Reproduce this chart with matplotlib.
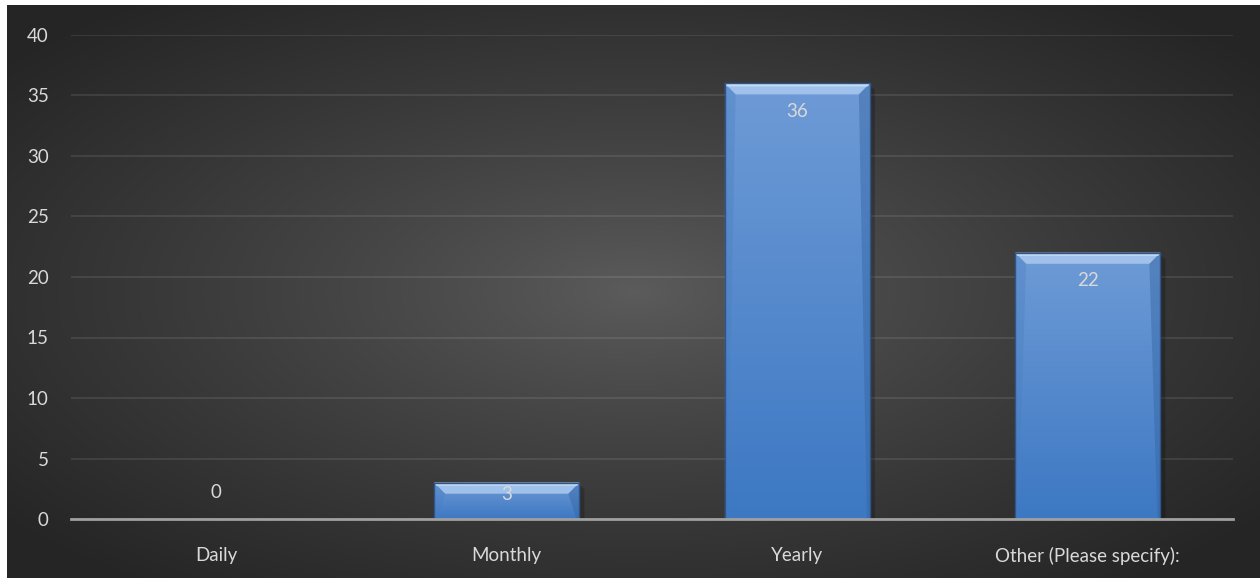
import numpy as np
import matplotlib
matplotlib.use('Agg')
import matplotlib.pyplot as plt
from matplotlib.patches import Polygon

categories = ['Daily', 'Monthly', 'Yearly', 'Other (Please specify):']
counts = [0, 3, 36, 22]
y_ticks = [0, 5, 10, 15, 20, 25, 30, 35, 40]

plt.rcParams['font.family'] = ['Lato', 'DejaVu Sans']

fig = plt.figure(figsize=(12.6, 5.78), dpi=100)
fig.patch.set_facecolor('white')

# radial dark background
bg = fig.add_axes([7 / 1260, 0, 1 - 7 / 1260, 1 - 5 / 578])
bg.set_axis_off()
yy, xx = np.mgrid[-1:1:300j, -1:1:600j]
r = np.sqrt(xx ** 2 + (yy / 1.0) ** 2)
r = np.clip(r / 1.3, 0, 1) ** 0.85
c0 = np.array([0x5c, 0x5c, 0x5c]) / 255
c1 = np.array([0x25, 0x25, 0x25]) / 255
img = c0[None, None, :] * (1 - r[..., None]) + c1[None, None, :] * r[..., None]
bg.imshow(img, aspect='auto', extent=[0, 1, 0, 1])

ax = fig.add_axes([71 / 1260, 1 - 519 / 578, (1233 - 71) / 1260, (519 - 35) / 578])
ax.patch.set_alpha(0)
x = np.arange(len(categories))
bars = ax.bar(x, counts, width=0.5, color='#5b8fd2', zorder=3)
ax.set_xlim(-0.5, len(categories) - 0.5)
ax.set_ylim(0, 40)
ax.set_yticks(y_ticks)
ax.set_xticks(x)
ax.set_xticklabels(categories)
ax.grid(axis='y', color='white', alpha=0.09, linewidth=1.5, zorder=0)
ax.tick_params(axis='both', length=0, labelsize=13.5, colors='#d9d9d9')
ax.tick_params(axis='x', pad=20)
ax.tick_params(axis='y', pad=22)
for s in ['top', 'right', 'left']:
    ax.spines[s].set_visible(False)
ax.spines['bottom'].set_color('#a0a0a0')
ax.spines['bottom'].set_linewidth(2)
ax.spines['bottom'].set_zorder(5)

# gradient + bevel on bars
grad = np.linspace(0, 1, 100)[:, None]
top = np.array([0x6e, 0x9b, 0xd6]) / 255
bot = np.array([0x3d, 0x78, 0xc3]) / 255
gimg = top[None, None, :] * (1 - grad[..., None]) + bot[None, None, :] * grad[..., None]
px_y = 40 / (519 - 35)  # data units per pixel
px_x = 1 / 290.5
for b, v in zip(bars, counts):
    if v <= 0:
        continue
    x0, w, h = b.get_x(), b.get_width(), b.get_height()
    # soft shadow on the right
    ax.add_patch(Polygon([[x0 + w, h - 3 * px_y], [x0 + w + 5 * px_x, h - 6 * px_y],
                          [x0 + w + 5 * px_x, 0], [x0 + w, 0]],
                         closed=True, facecolor='black', edgecolor='none', alpha=0.2, zorder=2.5))
    im = ax.imshow(gimg, aspect='auto', extent=[x0, x0 + w, 0, h], zorder=3.5)
    im.set_clip_path(b)
    bev_y = min(11 * px_y, h / 2)
    bev_x = 11 * px_x
    ax.add_patch(Polygon([[x0, h], [x0 + w, h], [x0 + w - bev_x, h - bev_y], [x0 + bev_x, h - bev_y]],
                         closed=True, facecolor='#9fc1ec', edgecolor='none', zorder=4))
    ax.add_patch(Polygon([[x0, h], [x0 + w, h], [x0 + w - 2 * px_x, h - 3 * px_y], [x0 + 2 * px_x, h - 3 * px_y]],
                         closed=True, facecolor='#c2dbf7', edgecolor='none', zorder=4.1))
    ax.add_patch(Polygon([[x0 + w, h], [x0 + w, 0], [x0 + w - 3 * px_x, 0], [x0 + w - bev_x, h - bev_y]],
                         closed=True, facecolor='#3565a3', edgecolor='none', alpha=0.45, zorder=4))
    ax.add_patch(Polygon([[x0, h], [x0, 0], [x0 + 3 * px_x, 0], [x0 + bev_x, h - bev_y]],
                         closed=True, facecolor='#4a7ec0', edgecolor='none', alpha=0.35, zorder=4))
    ax.plot([x0, x0 + w, x0 + w], [h, h, 0], color='#2f548a', linewidth=1, zorder=4.5)
    ax.plot([x0, x0], [0, h], color='#2f548a', linewidth=1, zorder=4.5)

for xi, v in zip(x, counts):
    if v > 0:
        off = min(2.3, v * 0.33)
        ax.text(xi, v - off, str(v), ha='center', va='center', fontsize=13.5, color='#d9d9d9', zorder=6)
    else:
        ax.text(xi, v + 2.15, str(v), ha='center', va='center', fontsize=13.5, color='#d9d9d9', zorder=6)

ax.tick_params(axis='y', pad=16)
fig.savefig('out.png', dpi=100)
